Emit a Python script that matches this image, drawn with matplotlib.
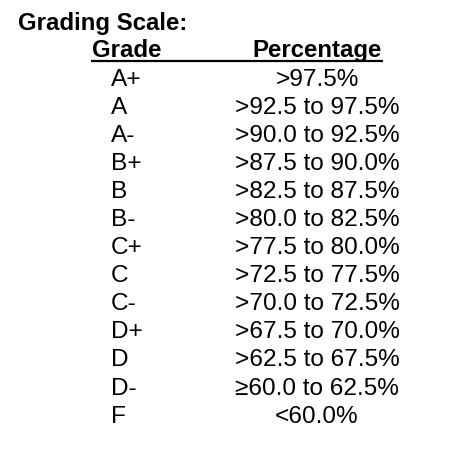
import matplotlib
matplotlib.use("Agg")
import matplotlib.pyplot as plt

# grading scale table
title = "Grading Scale:"
headers = ["Grade", "Percentage"]
grades = ["A+", "A", "A-", "B+", "B", "B-", "C+", "C", "C-", "D+", "D", "D-", "F"]
ranges = [">97.5%", ">92.5 to 97.5%", ">90.0 to 92.5%", ">87.5 to 90.0%",
          ">82.5 to 87.5%", ">80.0 to 82.5%", ">77.5 to 80.0%", ">72.5 to 77.5%",
          ">70.0 to 72.5%", ">67.5 to 70.0%", ">62.5 to 67.5%", "≥60.0 to 62.5%",
          "<60.0%"]

W, H = 474, 453
fig = plt.figure(figsize=(W / 100, H / 100), dpi=100)
ax = fig.add_axes([0, 0, 1, 1])
ax.set_xlim(0, W)
ax.set_ylim(H, 0)
ax.axis("off")

fs = 17.3
fs_rows = 17.6
font = ["Liberation Sans", "DejaVu Sans"]

ax.text(18, 30, title, fontsize=fs, fontweight="bold", family=font, va="baseline", ha="left")
ax.text(92, 57, headers[0], fontsize=fs, fontweight="bold", family=font, va="baseline", ha="left")
ax.text(317, 57, headers[1], fontsize=fs, fontweight="bold", family=font, va="baseline", ha="center")
ax.plot([91, 383], [61, 61], color="black", lw=1.6, solid_capstyle="butt")

row0, step = 86, 28.05
for i, (g, r) in enumerate(zip(grades, ranges)):
    y = row0 + i * step
    ax.text(111, y, g, fontsize=fs_rows, family=font, va="baseline", ha="left")
    ax.text(317, y, r, fontsize=fs_rows, family=font, va="baseline", ha="center")

fig.savefig("out.png", dpi=100, facecolor="white")
